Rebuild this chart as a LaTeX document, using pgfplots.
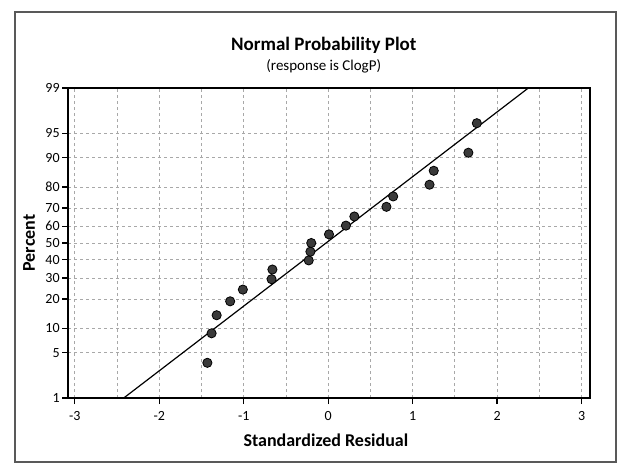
\documentclass[border=0pt]{standalone}
\usepackage{fontspec}
\setmainfont{Carlito}
\usepackage{pgfplots}
\pgfplotsset{compat=1.18}
\definecolor{dotgray}{HTML}{3A3A3A}
\definecolor{gridgray}{HTML}{A8A8A8}

% percent values on a normal-quantile scale
\pgfplotstableread{
x      z
-1.43  -1.798
-1.38  -1.355
-1.32  -1.084
-1.16  -0.875
-1.01  -0.699
-0.67  -0.543
-0.66  -0.398
-0.23  -0.261
-0.21  -0.130
-0.20   0.000
 0.01   0.130
 0.21   0.261
 0.31   0.398
 0.69   0.543
 0.77   0.699
 1.20   0.875
 1.25   1.084
 1.66   1.355
 1.76   1.798
}\resid

\begin{document}
\begin{tikzpicture}
\begin{axis}[
    scale only axis, width=261pt, height=155pt,
    xmin=-3.08, xmax=3.1,
    ymin=-2.3263, ymax=2.3263,
    xtick={-3,-2,-1,0,1,2,3},
    xticklabels={{-3},{-2},{-1},{0},{1},{2},{3}},
    minor xtick={-2.5,-1.5,-0.5,0.5,1.5,2.5},
    ytick={-2.3263,-1.6449,-1.2816,-0.8416,-0.5244,-0.2533,0,0.2533,0.5244,0.8416,1.2816,1.6449,2.3263},
    yticklabels={1,5,10,20,30,40,50,60,70,80,90,95,99},
    tick label style={font=\fontsize{7}{8}\selectfont},
    y tick label style={inner xsep=1pt},
    tick align=outside, xtick pos=bottom, ytick pos=left,
    major tick length=3pt, minor tick length=0pt,
    grid=both,
    major grid style={gridgray, line width=0.4pt, dash pattern=on 1.5pt off 1.5pt},
    minor grid style={gridgray, line width=0.4pt, dash pattern=on 1.5pt off 1.5pt},
    axis line style={line width=0.8pt},
    every tick/.style={black, line width=0.6pt},
    clip=false,
  ]
  % fitted line
  \addplot[black, line width=0.6pt] coordinates {(-2.42,-2.3263) (2.37,2.3263)};
  % residuals
  \addplot[only marks, mark=*, mark size=2.3pt, draw=black, fill=dotgray]
    table[x=x, y=z] {\resid};
  \node[font=\bfseries\fontsize{9.5}{11}\selectfont] at (rel axis cs:0.49,1) [yshift=21.5pt] {Normal Probability Plot};
  \node[font=\fontsize{7.5}{9}\selectfont] at (rel axis cs:0.49,1) [yshift=11pt] {(response is ClogP)};
  \node[font=\bfseries\fontsize{9}{11}\selectfont] at (rel axis cs:0.494,0) [yshift=-21pt] {Standardized Residual};
  \node[font=\bfseries\fontsize{9}{11}\selectfont, rotate=90] at (axis cs:-3.54,0) {Percent};
  \coordinate (o) at (rel axis cs:0,0);
\end{axis}
\pgfresetboundingbox
\begin{scope}[shift={(o)}]
  \draw[black!65, line width=0.6pt] (-26.5pt,-32pt) rectangle (274pt,193pt);
  \useasboundingbox (-34pt,-35pt) rectangle (276pt,199pt);
\end{scope}
\end{tikzpicture}
\end{document}
